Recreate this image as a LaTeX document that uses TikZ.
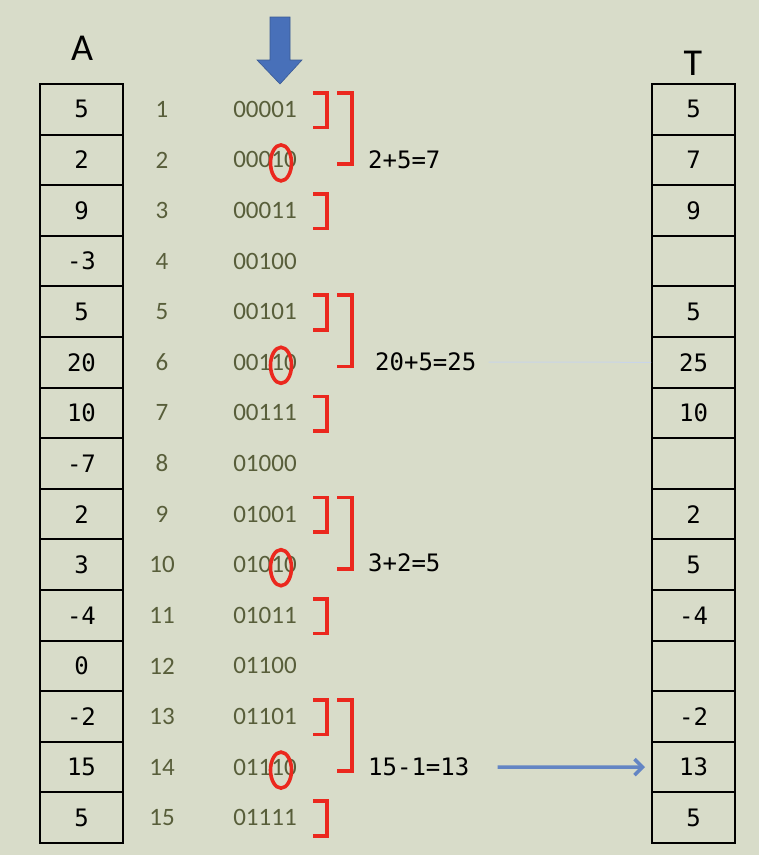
\documentclass[tikz,border=0pt]{standalone}
\usepackage{fontspec}
\setmainfont{Carlito}
\newfontfamily\monofnt{DejaVu Sans Mono}
\usetikzlibrary{arrows.meta}
\definecolor{bg}{RGB}{216,220,201}
\definecolor{olive}{RGB}{88,94,58}
\definecolor{brk}{RGB}{235,40,30}
\definecolor{arrowblue}{RGB}{72,112,185}
\definecolor{lineblue}{RGB}{100,135,190}
\tikzset{
  x=1pt, y=-1pt,
  cell/.style={draw=black, line width=2pt, minimum width=83pt, minimum height=50.6pt, inner sep=0pt, font=\monofnt\fontsize{24}{24}\selectfont},
  idx/.style={text=olive, font=\fontsize{25}{25}\selectfont, inner sep=0pt},
  bin/.style={text=olive, font=\fontsize{25}{25}\selectfont, inner sep=0pt},
  sumlbl/.style={font=\monofnt\fontsize{24}{24}\selectfont, inner sep=0pt, anchor=west},
  redline/.style={draw=brk, line width=3.6pt},
  head/.style={font=\fontsize{38}{38}\selectfont, inner sep=0pt}
}
\begin{document}
\begin{tikzpicture}
\useasboundingbox[fill=bg] (0,0) rectangle (759,855);
% headers
\node[head] (hA) at (82,48) {A};
\node[head] (hT) at (693,63) {T};
% down arrow
\fill[arrowblue, draw=arrowblue!80!black, line width=0.6pt] (270,17) -- (290,17) -- (290,60) -- (302,60) -- (280,84) -- (257,60) -- (270,60) -- cycle;
% arrays
\foreach \i/\a/\t [evaluate=\i as \yc using 84+50.6*(\i-0.5)] in
  {1/5/5, 2/2/7, 3/9/9, 4/-3/, 5/5/5, 6/20/25, 7/10/10, 8/-7/, 9/2/2, 10/3/5, 11/-4/-4, 12/0/, 13/-2/-2, 14/15/13, 15/5/5}{
  \node[cell] (a\i) at (81.5,\yc) {\a};
  \node[cell] (t\i) at (693.5,\yc) {\t};
  \node[idx] (n\i) at (162,\yc) {\i};
}
% binary
\foreach \i/\b [evaluate=\i as \yc using 84+50.6*(\i-0.5)] in
  {1/00001, 2/00010, 3/00011, 4/00100, 5/00101, 6/00110, 7/00111, 8/01000, 9/01001, 10/01010, 11/01011, 12/01100, 13/01101, 14/01110, 15/01111}{
  \node[bin] (b\i) at (265,\yc) {\b};
}
% small brackets at odd rows
\foreach \i [evaluate=\i as \yc using 84+50.6*(\i-0.5)] in {1,3,5,7,9,11,13,15}{
  \draw[redline] (313,\yc-16.5) -- (327,\yc-16.5) -- (327,\yc+18) -- (313,\yc+18);
}
% big brackets and ellipses
\foreach \i [evaluate=\i as \ya using 84+50.6*(\i-0.5), evaluate=\i as \yb using 84+50.6*(\i+0.5)] in {1,5,9,13}{
  \draw[redline] (337,\ya-16.5) -- (352,\ya-16.5) -- (352,\yb+4) -- (337,\yb+4);
  \draw[redline] (281,\yb+3) ellipse [x radius=10.5, y radius=18];
}
% sums
\node[sumlbl] (s2) at (368,160) {2+5=7};
\node[sumlbl] (s6) at (375,362) {20+5=25};
\node[sumlbl] (s10) at (368,563) {3+2=5};
\node[sumlbl] (s14) at (368,767) {15-1=13};
% connectors
\draw[lineblue!35, line width=1pt] ([xshift=12pt]s6.east) -- (t6.west);
\draw[arrowblue!85, line width=3.5pt, -{Straight Barb[length=8pt,width=16pt]}] ([xshift=28pt]s14.east) -- ([xshift=-6pt]t14.west);
\end{tikzpicture}
\end{document}
